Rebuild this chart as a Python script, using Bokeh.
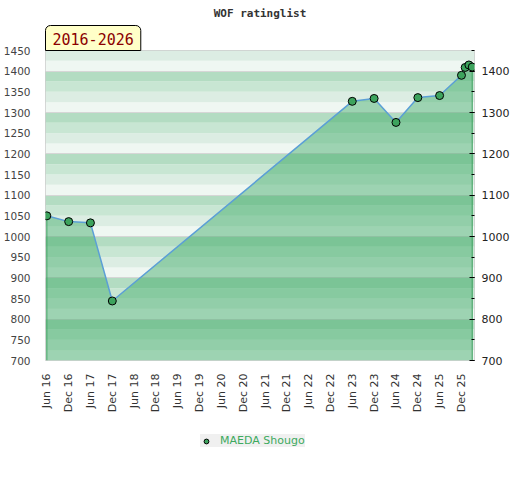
import math
from datetime import datetime

from bokeh.plotting import figure
from bokeh.layouts import column
from bokeh.models import (Range1d, LinearAxis, SingleIntervalTicker, FixedTicker,
                          DatetimeTickFormatter, Legend, LegendItem, Title)
from bokeh.embed import file_html
from bokeh.resources import INLINE

# ---------------- data ----------------
rating_months = ["2016-06", "2016-12", "2017-06", "2017-12", "2023-06", "2023-12",
                 "2024-06", "2024-12", "2025-06", "2025-12", "2026-01", "2026-02", "2026-03"]
ratings = [1050, 1036, 1033, 844, 1327, 1334, 1276, 1336, 1341, 1390, 1409, 1415, 1410]

tick_labels = ["Jun 16", "Dec 16", "Jun 17", "Dec 17", "Jun 18", "Dec 18", "Jun 19", "Dec 19",
               "Jun 20", "Dec 20", "Jun 21", "Dec 21", "Jun 22", "Dec 22", "Jun 23", "Dec 23",
               "Jun 24", "Dec 24", "Jun 25", "Dec 25"]

player_name = "MAEDA Shougo"
chart_title = "WOF ratinglist"
period_label = "2016-2026"

y_min, y_max = 700, 1450

# ---------------- derived ----------------
EPOCH = datetime(1970, 1, 1)
dates = [datetime.strptime(m + "-01", "%Y-%m-%d") for m in rating_months]
tick_dates = [datetime.strptime("01 " + t, "%d %b %y") for t in tick_labels]
tick_ms = [(d - EPOCH).total_seconds() * 1000.0 for d in tick_dates]

x_start, x_end = datetime(2016, 5, 21), datetime(2026, 3, 20)

stripe_colors = ["#eff7f2", "#dcede3", "#c8e6d3", "#b3dcc2"]
band_bottoms = list(range(y_min, y_max, 25))
band_tops = [b + 25 for b in band_bottoms]
band_colors = [stripe_colors[(b % 100) // 25] for b in band_bottoms]

MARKER_FILL = "#3da35d"

p = figure(frame_width=429, frame_height=310, title=None,
           x_axis_type="datetime",
           x_range=Range1d(x_start, x_end),
           y_range=Range1d(y_min, y_max),
           min_border_left=38, min_border_right=37, min_border_top=42, min_border_bottom=56,
           output_backend="svg", toolbar_location=None)
p.background_fill_color = "white"
p.border_fill_color = "white"
p.outline_line_color = "#cccccc"

# background stripes
p.quad(left=x_start, right=x_end, bottom=band_bottoms, top=band_tops,
       fill_color=band_colors, line_color=None, level="image")

# grid lines every 100
p.xgrid.visible = False
p.ygrid[0].ticker = SingleIntervalTicker(interval=100)
p.ygrid[0].grid_line_color = "#d6d6d6"
p.ygrid[0].grid_line_width = 1

# area
p.varea(x=dates, y1=[y_min] * len(dates), y2=ratings, fill_color="#31a45c", fill_alpha=0.43)
p.segment(x0=[dates[0], dates[-1]], y0=[y_min, y_min], x1=[dates[0], dates[-1]],
          y1=[ratings[0], ratings[-1]], line_color="#3a9f5c", line_width=1)
p.line(dates, ratings, line_color="#5b9fd6", line_width=1.5)
p.scatter(dates, ratings, size=8, fill_color=MARKER_FILL, line_color="black", line_width=1)

# left axis
ya = p.yaxis[0]
ya.ticker = SingleIntervalTicker(interval=50, num_minor_ticks=0)
ya.axis_line_color = None
ya.major_tick_line_color = None
ya.minor_tick_line_color = None
ya.major_label_standoff = 9
ya.major_label_text_font = "DejaVu Sans"
ya.major_label_text_font_size = "10.5px"
ya.major_label_text_color = "#444444"

# right axis
ra = LinearAxis(ticker=SingleIntervalTicker(interval=100, num_minor_ticks=2))
ra.axis_line_color = None
ra.major_tick_in = 5
ra.major_tick_out = 0
ra.minor_tick_in = 3
ra.minor_tick_out = 0
ra.major_tick_line_color = "black"
ra.minor_tick_line_color = "black"
ra.major_label_standoff = 7
ra.major_label_text_font = "DejaVu Sans"
ra.major_label_text_font_size = "11px"
ra.major_label_text_color = "#222222"
p.add_layout(ra, "right")

# x axis
xa = p.xaxis[0]
xa.ticker = FixedTicker(ticks=tick_ms)
fmt = "%b %y"
xa.formatter = DatetimeTickFormatter(milliseconds=fmt, seconds=fmt, minsec=fmt, minutes=fmt,
                                     hourmin=fmt, hours=fmt, days=fmt, months=fmt, years=fmt)
xa.major_label_overrides = {ms: lab for ms, lab in zip(tick_ms, tick_labels)}
xa.major_label_orientation = math.pi / 2
xa.axis_line_color = None
xa.major_tick_line_color = None
xa.minor_tick_line_color = None
xa.major_label_standoff = 7
xa.major_label_text_font = "DejaVu Sans"
xa.major_label_text_font_size = "11px"
xa.major_label_text_color = "#333333"

# period box (nearest to frame), then main title
p.add_layout(Title(text=period_label, align="left", standoff=0,
                   text_font="DejaVu Sans Mono", text_font_style="normal",
                   text_font_size="15px", text_color="#8b0000",
                   background_fill_color="#ffffc8", border_line_color="black",
                   padding=dict(left=7, right=7, top=7, bottom=6),
                   border_radius=(5, 5, 0, 0)), "above")
p.add_layout(Title(text=chart_title, align="center", standoff=8,
                   text_font="DejaVu Sans Mono", text_font_style="bold",
                   text_font_size="11px", text_color="#333333"), "above")

# legend strip below the chart
q = figure(width=504, height=44, x_range=Range1d(0, 1), y_range=Range1d(0, 1),
           x_axis_location=None, y_axis_location=None,
           min_border_left=0, min_border_right=0, min_border_top=0, min_border_bottom=0,
           output_backend="svg", toolbar_location=None)
q.outline_line_color = None
q.grid.visible = False
q.background_fill_color = "white"
q.border_fill_color = "white"
# same series, outside this strip's ranges: only its legend key is visible
key = q.scatter(dates, ratings, size=7, fill_color=MARKER_FILL, line_color="black", line_width=1)

legend = Legend(items=[LegendItem(label=player_name, renderers=[key])],
                location=(155, 13), orientation="horizontal")
legend.background_fill_color = "#f0f0f0"
legend.background_fill_alpha = 1
legend.border_line_color = None
legend.label_text_color = "#3daa5e"
legend.label_text_font = "DejaVu Sans"
legend.label_text_font_size = "11px"
legend.padding = 5
legend.spacing = 0
legend.glyph_width = 12
legend.glyph_height = 12
legend.label_height = 12
legend.label_standoff = 8
legend.margin = 0
q.add_layout(legend, "center")

layout = column(p, q, spacing=0)
open("out.html", "w").write(file_html(layout, INLINE))
